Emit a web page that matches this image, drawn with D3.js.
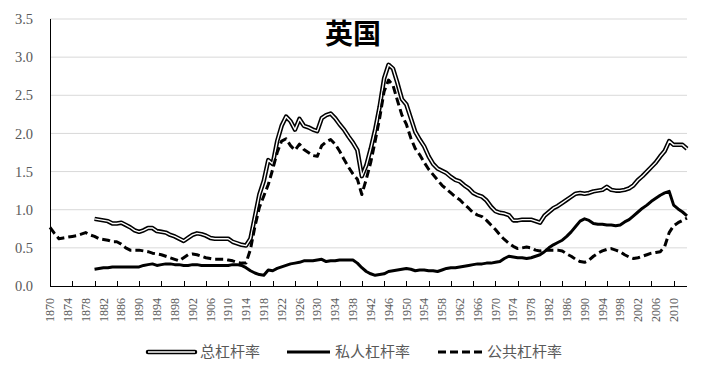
<!DOCTYPE html>
<html>
<head>
<meta charset="utf-8">
<script src="https://cdn.jsdelivr.net/npm/d3@7"></script>
<style>
	body { margin:0; background:#fff; }
</style>
</head>
<body>
<div id="chart"></div>
<script>
// years on the category axis
var firstYear = 1870, lastYear = 2013;
var years = d3.range(firstYear, lastYear + 1);

// 总杠杆率 (starts 1880)
var totalStart = 1880;
var totalLev = [
	0.88,0.87,0.86,0.85,0.82,0.82,0.83,0.80,0.77,0.73,
	0.71,0.73,0.76,0.76,0.72,0.71,0.70,0.67,0.65,0.62,
	0.59,0.63,0.67,0.69,0.68,0.66,0.63,0.62,0.62,0.62,
	0.62,0.58,0.56,0.54,0.53,0.62,0.91,1.20,1.38,1.65,
	1.60,1.90,2.10,2.22,2.16,2.05,2.19,2.10,2.08,2.05,
	2.03,2.20,2.24,2.26,2.20,2.12,2.05,1.96,1.88,1.78,
	1.44,1.58,1.80,2.05,2.35,2.72,2.90,2.85,2.66,2.45,
	2.38,2.20,2.02,1.92,1.83,1.70,1.60,1.54,1.51,1.48,
	1.43,1.39,1.37,1.32,1.28,1.22,1.19,1.17,1.12,1.04,
	0.98,0.96,0.95,0.93,0.86,0.86,0.87,0.87,0.87,0.85,
	0.83,0.92,0.97,1.02,1.05,1.09,1.13,1.17,1.21,1.22,
	1.21,1.22,1.24,1.25,1.26,1.30,1.26,1.25,1.25,1.26,
	1.28,1.32,1.39,1.44,1.50,1.56,1.62,1.70,1.77,1.90,
	1.85,1.85,1.85,1.80
];

// 私人杠杆率 (starts 1880)
var privateStart = 1880;
var privateLev = [
	0.22,0.23,0.24,0.24,0.25,0.25,0.25,0.25,0.25,0.25,
	0.25,0.27,0.28,0.29,0.27,0.28,0.29,0.29,0.28,0.28,
	0.27,0.27,0.28,0.28,0.27,0.27,0.27,0.27,0.27,0.27,
	0.27,0.28,0.28,0.27,0.24,0.20,0.17,0.15,0.14,0.21,
	0.20,0.23,0.25,0.27,0.29,0.30,0.31,0.33,0.33,0.33,
	0.34,0.35,0.32,0.33,0.33,0.34,0.34,0.34,0.34,0.30,
	0.24,0.19,0.16,0.14,0.15,0.16,0.19,0.20,0.21,0.22,
	0.23,0.22,0.20,0.21,0.21,0.20,0.20,0.19,0.21,0.23,
	0.24,0.24,0.25,0.26,0.27,0.28,0.29,0.29,0.30,0.30,
	0.31,0.32,0.36,0.39,0.38,0.37,0.37,0.36,0.37,0.39,
	0.41,0.45,0.50,0.54,0.57,0.60,0.65,0.71,0.78,0.85,
	0.88,0.86,0.82,0.81,0.81,0.80,0.80,0.79,0.80,0.84,
	0.87,0.92,0.97,1.02,1.06,1.11,1.15,1.19,1.22,1.24,
	1.06,1.01,0.97,0.92
];

// 公共杠杆率 (starts 1870)
var publicStart = 1870;
var publicLev = [
	0.77,0.69,0.62,0.63,0.64,0.65,0.66,0.68,0.70,0.67,
	0.65,0.62,0.61,0.60,0.58,0.58,0.55,0.50,0.47,0.47,
	0.47,0.46,0.45,0.43,0.42,0.41,0.39,0.37,0.35,0.33,
	0.37,0.41,0.42,0.41,0.39,0.37,0.36,0.35,0.35,0.35,
	0.34,0.33,0.31,0.30,0.30,0.48,0.78,1.03,1.18,1.33,
	1.53,1.75,1.90,1.93,1.84,1.78,1.86,1.79,1.75,1.71,
	1.70,1.84,1.89,1.92,1.86,1.77,1.66,1.56,1.47,1.40,
	1.20,1.40,1.62,1.90,2.20,2.55,2.70,2.63,2.43,2.24,
	2.12,1.94,1.80,1.72,1.62,1.53,1.46,1.39,1.32,1.27,
	1.22,1.17,1.13,1.07,1.02,0.96,0.93,0.91,0.86,0.80,
	0.74,0.67,0.61,0.56,0.52,0.49,0.50,0.51,0.50,0.47,
	0.46,0.47,0.47,0.47,0.47,0.46,0.42,0.39,0.35,0.32,
	0.31,0.34,0.39,0.43,0.46,0.48,0.49,0.47,0.45,0.41,
	0.38,0.36,0.37,0.39,0.41,0.43,0.44,0.45,0.52,0.70,
	0.79,0.83,0.86,0.89
];

var yTicks = [0, 0.5, 1.0, 1.5, 2.0, 2.5, 3.0, 3.5];
var labelYears = d3.range(1870, 2011, 4);
var tickYears = d3.range(1870, 2011, 5);
var title = "英国";
var seriesNames = ["总杠杆率", "私人杠杆率", "公共杠杆率"];

var margin = { left:50, right:26, top:19, bottom:87 };
var width = 713 - margin.left - margin.right,
	height = 373 - margin.top - margin.bottom;

var svg = d3.select("#chart")
	.append("svg")
	.attr("width", 713)
	.attr("height", 373);

var g = svg.append("g")
	.attr("transform", "translate(" + margin.left + ", " + margin.top + ")");

var x = d3.scalePoint()
	.domain(years)
	.range([0, width]);

var y = d3.scaleLinear()
	.domain([0, 3.5])
	.range([height, 0]);

var numFont = "'Liberation Serif', 'Times New Roman', serif";
var cjkFont = "'Noto Sans CJK SC', 'Noto Sans', sans-serif";
var grey = "#595959";

// gridlines
g.selectAll("line.grid")
	.data(yTicks.slice(1))
	.enter().append("line")
		.attr("class", "grid")
		.attr("x1", 0)
		.attr("x2", width)
		.attr("y1", function(d){ return y(d); })
		.attr("y2", function(d){ return y(d); })
		.attr("stroke", "#d9d9d9")
		.attr("stroke-width", 1);

// y labels
g.selectAll("text.ylab")
	.data(yTicks)
	.enter().append("text")
		.attr("class", "ylab")
		.attr("x", -17)
		.attr("y", function(d){ return y(d); })
		.attr("dy", "0.35em")
		.attr("text-anchor", "end")
		.attr("font-family", numFont)
		.attr("font-size", "14.5px")
		.attr("fill", grey)
		.text(function(d){ return d3.format(".1f")(d); });

// title
g.append("text")
	.attr("x", 303)
	.attr("y", 25)
	.attr("text-anchor", "middle")
	.attr("font-family", cjkFont)
	.attr("font-weight", "bold")
	.attr("font-size", "28px")
	.attr("fill", "#000")
	.text(title);

// axes
g.append("line")
	.attr("x1", 0.5).attr("x2", 0.5)
	.attr("y1", 0).attr("y2", height)
	.attr("stroke", "#000");
g.append("line")
	.attr("x1", 0).attr("x2", width)
	.attr("y1", height + 0.5).attr("y2", height + 0.5)
	.attr("stroke", "#000");

g.selectAll("line.xtick")
	.data(tickYears)
	.enter().append("line")
		.attr("class", "xtick")
		.attr("x1", function(d){ return Math.round(x(d)) + 0.5; })
		.attr("x2", function(d){ return Math.round(x(d)) + 0.5; })
		.attr("y1", height - 5)
		.attr("y2", height)
		.attr("stroke", "#000");

g.selectAll("text.xlab")
	.data(labelYears)
	.enter().append("text")
		.attr("class", "xlab")
		.attr("transform", function(d){
			return "translate(" + x(d) + ", " + (height + 12) + ") rotate(-90)";
		})
		.attr("dy", "0.35em")
		.attr("text-anchor", "end")
		.attr("font-family", numFont)
		.attr("font-size", "12px")
		.attr("fill", grey)
		.text(function(d){ return d; });

// lines
function toPoints(values, start){
	return values.map(function(v, i){ return { year: start + i, v: v }; });
}
var line = d3.line()
	.x(function(d){ return x(d.year); })
	.y(function(d){ return y(d.v); });

var totalPts = toPoints(totalLev, totalStart);
g.append("path")
	.attr("d", line(totalPts))
	.attr("fill", "none")
	.attr("stroke", "#000")
	.attr("stroke-width", 4.5)
	.attr("stroke-linejoin", "round");
g.append("path")
	.attr("d", line(totalPts))
	.attr("fill", "none")
	.attr("stroke", "#fff")
	.attr("stroke-width", 1.4)
	.attr("stroke-linejoin", "round");

g.append("path")
	.attr("d", line(toPoints(privateLev, privateStart)))
	.attr("fill", "none")
	.attr("stroke", "#000")
	.attr("stroke-width", 3)
	.attr("stroke-linejoin", "round");

g.append("path")
	.attr("d", line(toPoints(publicLev, publicStart)))
	.attr("fill", "none")
	.attr("stroke", "#000")
	.attr("stroke-width", 3)
	.attr("stroke-dasharray", "8,4")
	.attr("stroke-linejoin", "round");

// legend
var legend = svg.append("g").attr("class", "legend");
var legendX = [148, 287, 438];
var sampleW = [47, 43, 44];
var ly = 352;

legend.append("line")
	.attr("x1", legendX[0]).attr("x2", legendX[0] + sampleW[0])
	.attr("y1", ly).attr("y2", ly)
	.attr("stroke", "#000").attr("stroke-width", 4.5).attr("stroke-linecap", "round");
legend.append("line")
	.attr("x1", legendX[0]).attr("x2", legendX[0] + sampleW[0])
	.attr("y1", ly).attr("y2", ly)
	.attr("stroke", "#fff").attr("stroke-width", 1.4);
legend.append("line")
	.attr("x1", legendX[1]).attr("x2", legendX[1] + sampleW[1])
	.attr("y1", ly).attr("y2", ly)
	.attr("stroke", "#000").attr("stroke-width", 3);
legend.append("line")
	.attr("x1", legendX[2]).attr("x2", legendX[2] + sampleW[2])
	.attr("y1", ly).attr("y2", ly)
	.attr("stroke", "#000").attr("stroke-width", 3)
	.attr("stroke-dasharray", "8,4");

legend.selectAll("text")
	.data(seriesNames)
	.enter().append("text")
		.attr("x", function(d, i){ return legendX[i] + sampleW[i] + 5; })
		.attr("y", ly)
		.attr("dy", "0.35em")
		.attr("font-family", cjkFont)
		.attr("font-size", "15px")
		.attr("fill", grey)
		.text(function(d){ return d; });
</script>
</body>
</html>
